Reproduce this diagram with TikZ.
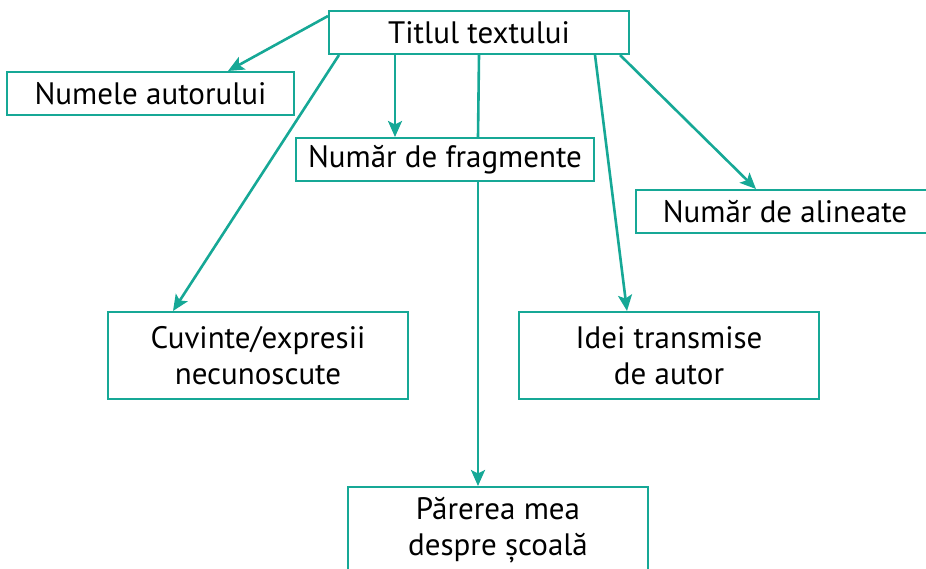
\documentclass[tikz,border=0pt]{standalone}
\usepackage{fontspec}
\setmainfont{PT Sans}
\usetikzlibrary{arrows.meta,calc}
\definecolor{teal1}{RGB}{22,168,150}
\begin{document}
\begin{tikzpicture}[x=1pt,y=-1pt,
  box/.style={draw=teal1,line width=2pt,fill=white,inner sep=0pt,align=center,
    font=\fontsize{31}{36}\selectfont,text=black},
  conn/.style={draw=teal1,line width=2.6pt},
  arr/.style={conn,-{Stealth[length=16pt,width=14pt,inset=3.5pt]}}]
\useasboundingbox (0,0) rectangle (926,569);
\node[box,minimum width=300pt,minimum height=43pt] (t) at (479,32.5) {Titlul textului};
\node[box,minimum width=287pt,minimum height=43pt] (n) at (150.5,93.5) {Numele autorului};
\node[box,minimum width=298pt,minimum height=43pt] (f) at (445,159.5) {Număr de fragmente};
\node[box,minimum width=298pt,minimum height=43pt] (a) at (785,211.5) {Număr de alineate};
\node[box,minimum width=300pt,minimum height=87pt] (c) at (258,355.5) {Cuvinte/expresii\\necunoscute};
\node[box,minimum width=300pt,minimum height=87pt] (i) at (669,355.5) {Idei transmise\\de autor};
\node[box,minimum width=300pt,minimum height=87pt] (p) at (498,530.5) {Părerea mea\\despre școală};
\draw[arr] ($(t.north west)+(0,6)$) -- ($(n.north west)+(222,0)$);
\draw[arr] ($(t.south west)+(11,0)$) -- ($(c.north west)+(66,0)$);
\draw[arr] ($(t.south west)+(67,0)$) -- ($(f.north west)+(100,0)$);
\draw[conn] (t.south) -- ($(f.north west)+(183,0)$);
\draw[arr] ($(f.south west)+(183,0)$) -- ($(p.north west)+(131,0)$);
\draw[arr] ($(t.south west)+(267,0)$) -- ($(i.north west)+(109,0)$);
\draw[arr] ($(t.south west)+(292,0)$) -- ($(a.north west)+(121,0)$);
\end{tikzpicture}
\end{document}
